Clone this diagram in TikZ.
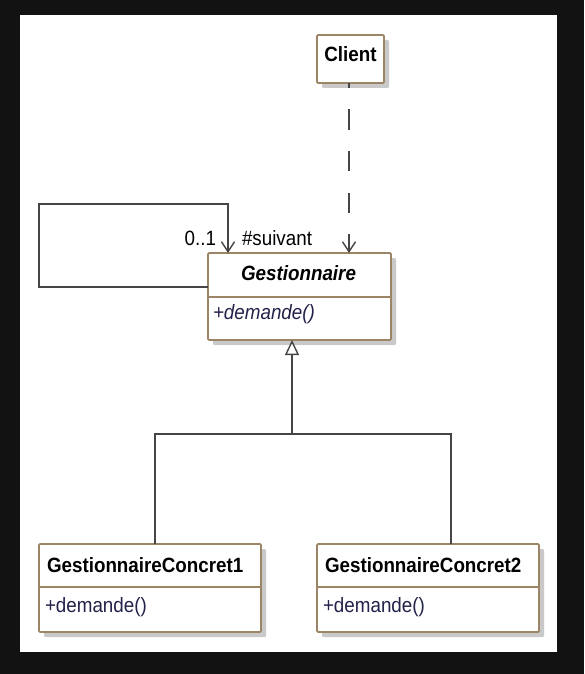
\documentclass[tikz,border=0pt]{standalone}
\usepackage{fontspec}
\usepackage{graphicx}
\setmainfont{Liberation Sans}
\usetikzlibrary{arrows.meta,shadows}
\definecolor{bordc}{HTML}{9C8466}
\definecolor{linec}{HTML}{454545}
\definecolor{opc}{HTML}{22224A}
\definecolor{bgc}{HTML}{121212}
\newcommand{\vstr}[1]{\scalebox{1}[1.1]{#1}}
\begin{document}
\begin{tikzpicture}[x=1pt,y=-1pt,
  umlbox/.style={draw=bordc, line width=1.8pt, fill=white, rounded corners=1.2pt,
    inner sep=0pt, outer sep=0pt, anchor=north west,
    drop shadow={shadow xshift=5pt, shadow yshift=-5pt, fill=black!35, opacity=0.6}},
  divider/.style={draw=bordc, line width=1.8pt},
  txt/.style={inner sep=0pt, outer sep=0pt, font=\fontsize{18.8}{22}\selectfont},
  cname/.style={txt, font=\fontsize{18.8}{22}\selectfont\bfseries},
  aname/.style={txt, font=\fontsize{18.8}{22}\selectfont\bfseries\itshape},
  op/.style={txt, text=opc},
  aop/.style={txt, text=opc, font=\fontsize{18.8}{22}\selectfont\itshape},
  conn/.style={draw=linec, line width=1.4pt},
  assoc/.style={conn, -{Straight Barb[length=10pt,width=13pt]}},
  dep/.style={conn, dash pattern=on 20pt off 21.5pt, dash phase=15pt, -{Straight Barb[length=10pt,width=13pt]}},
  gen/.style={conn, -{Triangle[open,length=15pt,width=14pt,fill=white]}}
]
\fill[bgc] (0,0) rectangle (584,674);
\fill[white] (20,15) rectangle (557,652);

% Client
\node[umlbox, minimum width=67pt, minimum height=48pt] (c) at (317,35) {};
\node[cname, anchor=base] (ct) at ([yshift=-27pt]c.north) {\vstr{Client}};

% Gestionnaire
\node[umlbox, minimum width=183pt, minimum height=87pt] (g) at (208,253) {};
\draw[divider] ([yshift=-44pt]g.north west) -- ([yshift=-44pt]g.north east);
\node[aname, anchor=base] (gt) at ([yshift=-27pt,xshift=-1pt]g.north) {\vstr{Gestionnaire}};
\node[aop, anchor=base west] (go) at ([xshift=5pt,yshift=-66pt]g.north west) {\vstr{+demande()}};

% GestionnaireConcret1
\node[umlbox, minimum width=222pt, minimum height=88pt] (k1) at (39,544) {};
\draw[divider] ([yshift=-43pt]k1.north west) -- ([yshift=-43pt]k1.north east);
\node[cname, anchor=base west] (k1t) at ([xshift=8pt,yshift=-28pt]k1.north west) {\vstr{GestionnaireConcret1}};
\node[op, anchor=base west] (k1o) at ([xshift=6pt,yshift=-68pt]k1.north west) {\vstr{+demande()}};

% GestionnaireConcret2
\node[umlbox, minimum width=222pt, minimum height=88pt] (k2) at (317,544) {};
\draw[divider] ([yshift=-43pt]k2.north west) -- ([yshift=-43pt]k2.north east);
\node[cname, anchor=base west] (k2t) at ([xshift=8pt,yshift=-28pt]k2.north west) {\vstr{GestionnaireConcret2}};
\node[op, anchor=base west] (k2o) at ([xshift=6pt,yshift=-68pt]k2.north west) {\vstr{+demande()}};

% dependency Client -> Gestionnaire
\draw[dep] ([xshift=-1.5pt]c.south) -- ([xshift=-1.5pt]c.south |- g.north);

% self association
\draw[assoc] ([yshift=-34pt]g.north west) -| (39,204) -| ([xshift=20pt]g.north west);
\node[txt, anchor=base east] (mult) at (216,245) {\vstr{0..1}};
\node[txt, anchor=base west] (role) at (242,245) {\vstr{\#suivant}};

% generalization
\coordinate (j) at (292,434);
\draw[conn] ([xshift=116pt]k1.north west) |- (j);
\draw[conn] ([xshift=134pt]k2.north west) |- (j);
\draw[gen] (j) -- ([xshift=-7.5pt]g.south);
\end{tikzpicture}
\end{document}
